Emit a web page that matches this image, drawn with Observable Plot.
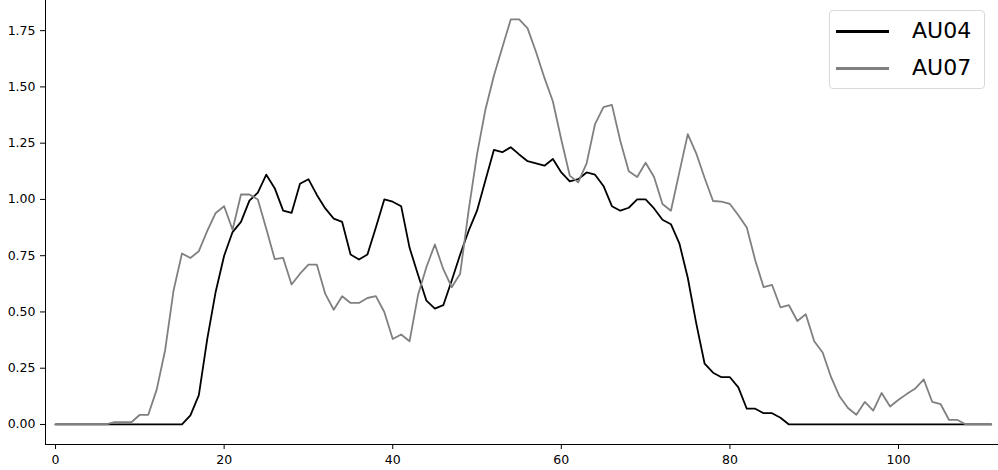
<!DOCTYPE html>
<html>
<head>
<meta charset="utf-8">
<script src="https://cdn.jsdelivr.net/npm/d3@7"></script>
<script src="https://cdn.jsdelivr.net/npm/@observablehq/plot@0.6"></script>
<style>
  html, body { margin: 0; padding: 0; background: #fff; }
  #wrap { position: relative; width: 998px; height: 470px; font-family: "DejaVu Sans", sans-serif; }
  #legend { position: absolute; left: 829px; top: 10px; width: 154px; height: 77px;
    border: 1px solid #d9d9d9; border-radius: 4px; background: rgba(255,255,255,0.8); }
  .row { position: absolute; left: 0; height: 30px; display: flex; align-items: center; }
  .sw { position: absolute; left: 6px; width: 53px; height: 3px; }
  .lbl { position: absolute; left: 82px; font-size: 22px; line-height: 22px; color: #000; }
</style>
</head>
<body>
<div id="wrap"></div>
<script>
const seriesNames = ["AU04", "AU07"];
const seriesColors = ["#000000", "#808080"];

const au04 = [
  0, 0, 0, 0, 0, 0, 0, 0, 0, 0, 0, 0, 0, 0, 0, 0,
  0.04, 0.13, 0.38, 0.59, 0.75, 0.855, 0.9, 0.995, 1.03, 1.11, 1.05, 0.95, 0.94, 1.07,
  1.09, 1.02, 0.96, 0.915, 0.9, 0.755, 0.733, 0.755, 0.875, 1.0, 0.99, 0.97, 0.785, 0.665,
  0.55, 0.515, 0.53, 0.64, 0.755, 0.86, 0.95, 1.085, 1.22, 1.21, 1.232, 1.2, 1.17, 1.16,
  1.15, 1.18, 1.12, 1.08, 1.09, 1.12, 1.11, 1.06, 0.97, 0.95, 0.963, 1.0, 1.0, 0.96,
  0.91, 0.89, 0.805, 0.652, 0.45, 0.27, 0.23, 0.21, 0.21, 0.165, 0.07, 0.07, 0.05, 0.05,
  0.03, 0, 0, 0, 0, 0, 0, 0, 0, 0, 0, 0, 0, 0, 0, 0, 0, 0, 0, 0, 0, 0, 0, 0, 0, 0
];

const au07 = [
  0, 0, 0, 0, 0, 0, 0, 0.01, 0.01, 0.01, 0.043, 0.043, 0.155, 0.33, 0.595, 0.76,
  0.74, 0.77, 0.86, 0.94, 0.97, 0.865, 1.022, 1.022, 1.0, 0.87, 0.735, 0.74, 0.622, 0.67,
  0.71, 0.71, 0.58, 0.51, 0.57, 0.54, 0.54, 0.562, 0.57, 0.5, 0.38, 0.4, 0.37, 0.575,
  0.7, 0.8, 0.69, 0.61, 0.67, 0.95, 1.2, 1.4, 1.55, 1.675, 1.8, 1.8, 1.76, 1.655,
  1.54, 1.435, 1.265, 1.106, 1.076, 1.16, 1.335, 1.41, 1.42, 1.26, 1.125, 1.1, 1.163, 1.1,
  0.98, 0.95, 1.12, 1.29, 1.205, 1.095, 0.993, 0.99, 0.98, 0.93, 0.875, 0.73, 0.61, 0.62,
  0.52, 0.53, 0.46, 0.49, 0.37, 0.32, 0.21, 0.125, 0.073, 0.043, 0.1, 0.062, 0.14, 0.08,
  0.11, 0.136, 0.16, 0.2, 0.1, 0.09, 0.02, 0.02, 0, 0, 0, 0
];

const xTicks = [0, 20, 40, 60, 80, 100];
const yTicks = [0, 0.25, 0.5, 0.75, 1.0, 1.25, 1.5, 1.75];

const rows = [];
[au04, au07].forEach((arr, s) => arr.forEach((v, i) => rows.push({frame: i, value: v, series: seriesNames[s]})));

const chart = Plot.plot({
  width: 998,
  height: 470,
  marginLeft: 45,
  marginRight: 0,
  marginTop: 0,
  marginBottom: 26,
  style: {fontFamily: "DejaVu Sans, sans-serif", fontSize: "12.5px", color: "#000", background: "#fff"},
  x: {domain: [-1.19, 111.86], label: null},
  y: {domain: [-0.089, 1.884], label: null},
  color: {domain: seriesNames, range: seriesColors},
  marks: [
    Plot.frame({anchor: "left", stroke: "#000", strokeWidth: 1}),
    Plot.frame({anchor: "bottom", stroke: "#000", strokeWidth: 1}),
    Plot.axisX({ticks: xTicks, tickSize: 5, tickPadding: 6, tickFormat: d => String(d), label: null, fontSize: 12.5}),
    Plot.axisY({ticks: yTicks, tickSize: 5, tickPadding: 5, tickFormat: d => d.toFixed(2), label: null, fontSize: 12.5}),
    Plot.line(rows, {x: "frame", y: "value", z: "series", stroke: "series", strokeWidth: 1.8, strokeLinejoin: "round"})
  ]
});

const wrap = document.getElementById("wrap");
wrap.appendChild(chart);

const legend = document.createElement("div");
legend.id = "legend";
seriesNames.forEach((name, i) => {
  const row = document.createElement("div");
  row.className = "row";
  row.style.top = (5 + i * 37) + "px";
  row.style.width = "154px";
  const sw = document.createElement("div");
  sw.className = "sw";
  sw.style.background = seriesColors[i];
  const lbl = document.createElement("div");
  lbl.className = "lbl";
  lbl.textContent = name;
  row.appendChild(sw);
  row.appendChild(lbl);
  legend.appendChild(row);
});
wrap.appendChild(legend);
</script>
</body>
</html>
